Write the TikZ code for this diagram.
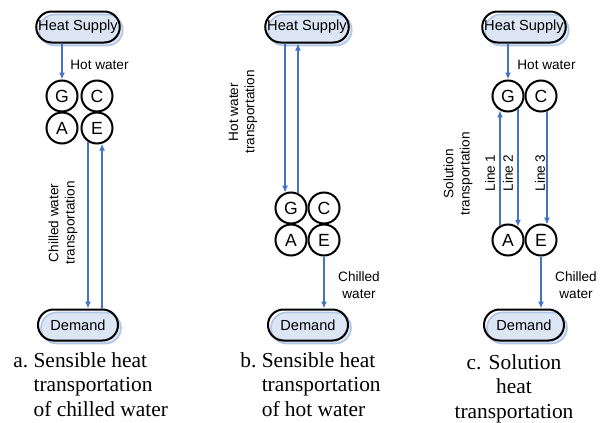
\documentclass[tikz,border=0pt]{standalone}
\usepackage{fontspec}
\setmainfont{Liberation Serif}
\setsansfont{Liberation Sans}
\usetikzlibrary{arrows.meta,shadows}
\definecolor{flowblue}{RGB}{68,114,196}
\definecolor{shadefill}{RGB}{219,229,243}
\definecolor{shadeline}{RGB}{178,198,230}
\tikzset{
  plant/.style = {
    draw, line width=1pt,
    rounded corners=7.75pt,
    minimum width=40pt, minimum height=15.5pt, inner sep=1pt,
    font=\sffamily\fontsize{7.3}{8}\selectfont,
    general shadow={fill=shadefill, draw=shadeline, line width=0.8pt,
      shadow xshift=1.5pt, shadow yshift=-1.5pt} % offset blue backing
  },
  unit/.style  = {circle, draw, line width=1pt, minimum size=15.5pt,
    inner sep=0pt, font=\sffamily\fontsize{8.8}{9}\selectfont},
  flow/.style  = {draw=flowblue, line width=0.65pt,
    -{Latex[length=3.5pt,width=3pt]}},
  tag/.style   = {font=\sffamily\fontsize{6.8}{8.2}\selectfont,
    inner sep=0pt, align=center},
  caption/.style = {font=\fontsize{10.7}{12.2}\selectfont, inner sep=0pt}
}

\begin{document}
\begin{tikzpicture}[x=0.5pt,y=-0.5pt]
\useasboundingbox (0,0) rectangle (606,423);
% a. chilled water carries the heat
\node[plant] (HSa) at (78,27) {Heat Supply};
\node[unit] (Ga) at (62,96) {G};
\node[unit] (Ca) at (97,96) {C};
\node[unit] (Aa) at (62,128) {A};
\node[unit] (Ea) at (97,128) {E};
\node[plant] (Da) at (78,325) {Demand};
\draw[flow] (Ga.north |- HSa.south) -- (Ga.north);   % hot water in
\draw[flow] (Ea.237) -- (Ea.237 |- Da.north);         % chilled supply
\draw[flow] (Ea.288 |- Da.north) -- (Ea.288);         % chilled return
\node[tag, anchor=west] (hwa) at (70,65) {Hot water};
\node[tag, rotate=90] (cwa) at (63,223) {Chilled water\\transportation};
\node[caption, anchor=north west] (capa) at (13,350)
  {\begin{tabular}{@{}l@{\ }l@{}}a. & Sensible heat\\ & transportation\\ & of chilled water\end{tabular}};
% b. hot water carries the heat
\node[plant] (HSb) at (307,27) {Heat Supply};
\node[unit] (Gb) at (291,208) {G};
\node[unit] (Cb) at (324,208) {C};
\node[unit] (Ab) at (291,240) {A};
\node[unit] (Eb) at (324,240) {E};
\node[plant] (Db) at (308,325) {Demand};
\draw[flow] (Gb.111 |- HSb.south) -- (Gb.111);        % hot supply
\draw[flow] (Gb.65) -- (Gb.65 |- HSb.south);          % hot return
\draw[flow] (Eb.south) -- (Eb.south |- Db.north);     % chilled water out
\node[tag, rotate=90] (hwb) at (243,112) {Hot water\\transportation};
\node[tag] (cwb) at (359,285) {Chilled\\water};
\node[caption, anchor=north west] (capb) at (240,350)
  {\begin{tabular}{@{}l@{\ }l@{}}b. & Sensible heat\\ & transportation\\ & of hot water\end{tabular}};
% c. solution carries the heat
\node[plant] (HSc) at (524,27) {Heat Supply};
\node[unit] (Gc) at (508,96) {G};
\node[unit] (Cc) at (541,96) {C};
\node[unit] (Ac) at (508,240) {A};
\node[unit] (Ec) at (541,240) {E};
\node[plant] (Dc) at (524,325) {Demand};
\draw[flow] (Gc.north |- HSc.south) -- (Gc.north);
\draw[flow] (Ac.119) -- (Gc.241);                     % line 1
\draw[flow] (Gc.307) -- (Ac.53);                      % line 2
\draw[flow] (Cc.291) -- (Ec.69);                      % line 3
\draw[flow] (Ec.south) -- (Ec.south |- Dc.north);
\node[tag, anchor=west] (hwc) at (517,65) {Hot water};
\node[tag, rotate=90] (soc) at (458,174) {Solution\\transportation};
\node[tag, rotate=90] (l1c) at (490,173) {Line 1};
\node[tag, rotate=90] (l2c) at (508,173) {Line 2};
\node[tag, rotate=90] (l3c) at (540,173) {Line 3};
\node[tag] (cwc) at (576,285) {Chilled\\water};
\node[caption, anchor=north, align=center] (capc) at (514,354)
  {c. Solution\\heat\\transportation};
\end{tikzpicture}
\end{document}
